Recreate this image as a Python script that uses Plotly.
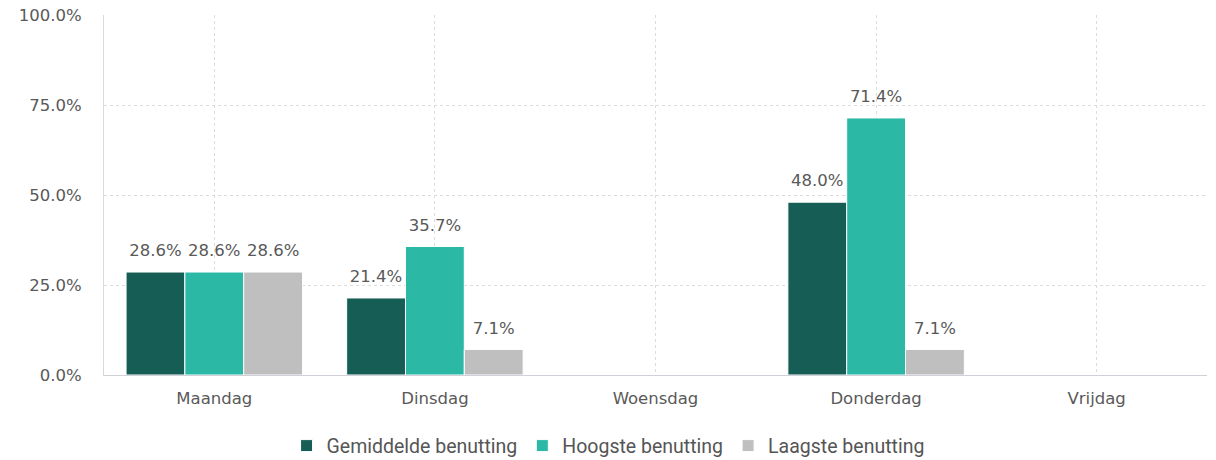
import plotly.graph_objects as go

days = ["Maandag", "Dinsdag", "Woensdag", "Donderdag", "Vrijdag"]
gemiddelde = [28.6, 21.4, None, 48.0, None]
hoogste = [28.6, 35.7, None, 71.4, None]
laagste = [28.6, 7.1, None, 7.1, None]
y_ticks = [0, 25, 50, 75, 100]
y_labels = ["0.0%", "25.0%", "50.0%", "75.0%", "100.0%"]

series = [
    ("Gemiddelde benutting", gemiddelde, "#165e55"),
    ("Hoogste benutting", hoogste, "#2bb8a5"),
    ("Laagste benutting", laagste, "#bfbfbf"),
]

fig = go.Figure()
for i, (name, vals, color) in enumerate(series):
    fig.add_trace(go.Bar(
        x=days, y=vals, name=name,
        offsetgroup=str(i), alignmentgroup="g",
        marker=dict(color=color, line=dict(color="white", width=1)),
        hoverinfo="y",
    ))
    # value labels: invisible markers keep the text a bit above the bar
    fig.add_trace(go.Scatter(
        x=days, y=vals, mode="markers+text",
        offsetgroup=str(i), alignmentgroup="g",
        text=[f"{v:.1f}%" if v is not None else "" for v in vals],
        textposition="top center",
        textfont=dict(family="DejaVu Sans, sans-serif", size=16.5, color="#595959"),
        marker=dict(size=17, color="rgba(0,0,0,0)"),
        showlegend=False, hoverinfo="skip", cliponaxis=False,
    ))

fig.update_layout(
    width=1216, height=460,
    margin=dict(l=104, r=9, t=15, b=85, autoexpand=False),
    plot_bgcolor="white", paper_bgcolor="white",
    barmode="group", bargap=0.2, bargroupgap=0,
    scattermode="group", scattergap=0.2,
    font=dict(family="DejaVu Sans, sans-serif", size=16, color="#595959"),
    legend=dict(orientation="h", x=0.457, xanchor="center", y=-0.197, yanchor="middle",
                font=dict(family="Roboto, sans-serif", size=19.5, color="#555"),
                itemwidth=30),
    xaxis=dict(showgrid=True, gridcolor="#dcdcdc", griddash="dot",
               showline=True, linecolor="#d0d0d8", linewidth=1,
               ticks="", ticklabelstandoff=8, automargin=False,
               tickfont=dict(size=16.5, color="#595959")),
    yaxis=dict(range=[0, 100], tickvals=y_ticks, ticktext=y_labels,
               showgrid=True, gridcolor="#dcdcdc", griddash="dot",
               showline=True, linecolor="#d9d9d9", linewidth=1,
               zeroline=False, ticks="", ticklabelstandoff=18, automargin=False,
               tickfont=dict(size=16.5, color="#595959")),
)

# the page's default body margin would shift the chart
fig.write_html("out.html", post_script="document.body.style.margin='0';",
               config={"displayModeBar": False})
